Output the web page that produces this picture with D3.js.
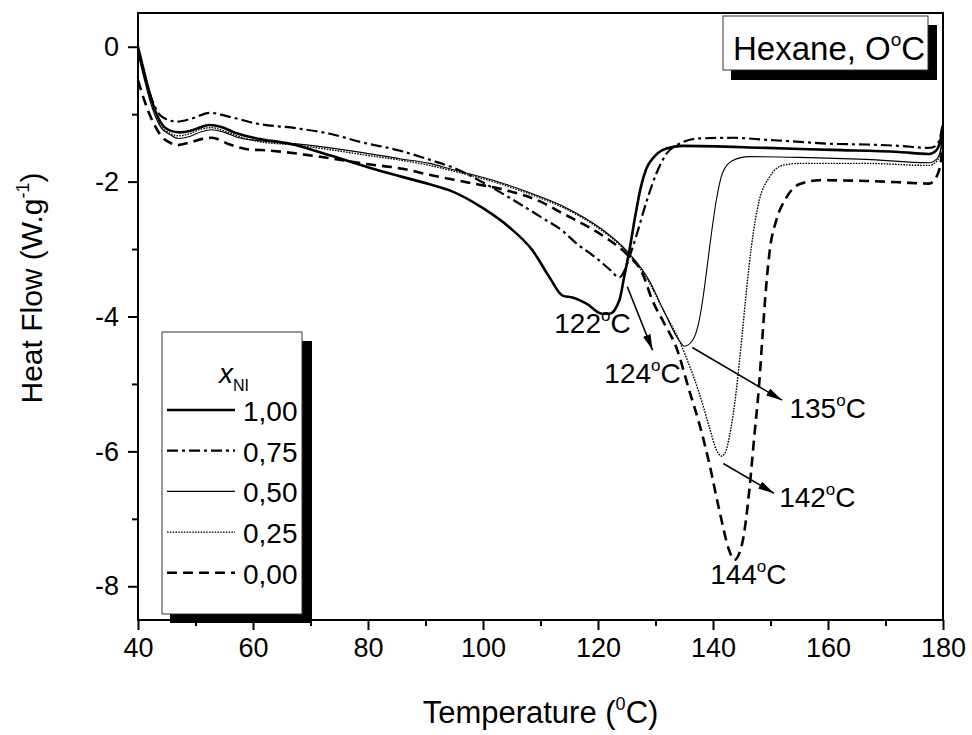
<!DOCTYPE html>
<html>
<head>
<meta charset="utf-8">
<script src="https://cdn.jsdelivr.net/npm/d3@7"></script>
<style>
    body { margin: 0; background: #fff; }
    #chart { width: 972px; height: 735px; }
    text { font-family: "Liberation Sans", Arial, sans-serif; fill: #000; }
</style>
</head>
<body>
<div id="chart"></div>
<script>

// DSC traces: [temperature (C), heat flow (W/g)]
const seriesLabels = ["1,00", "0,75", "0,50", "0,25", "0,00"];

const curve100 = [[40,0],[41,-0.35],[42,-0.68],[43,-0.95],[44,-1.13],[45.5,-1.24],[47.3,-1.27],[49,-1.25],[51,-1.19],
    [52.5,-1.16],[54.5,-1.19],[57,-1.28],[60.67,-1.36],[66.4,-1.44],[73.35,-1.61],[82.04,-1.84],[90.72,-2.04],
    [94.2,-2.13],[99.93,-2.39],[104.62,-2.68],[108.61,-3.02],[111.57,-3.42],[113.83,-3.69],[115.56,-3.72],
    [118,-3.81],[120.77,-3.96],[122,-3.96],[123.72,-3.76],[124.6,-3.39],[125.46,-3.02],[126.5,-2.5],[127.4,-2.1],
    [128.4,-1.81],[129.8,-1.63],[131.89,-1.51],[134.67,-1.47],[149.26,-1.5],[160.72,-1.53],[172.36,-1.56],
    [177.57,-1.59],[178.79,-1.54],[179.65,-1.35],[179.9,-1.2]];

const curve075 = [[40,-0.05],[41,-0.38],[42,-0.68],[43,-0.9],[44.2,-1.04],[46.77,-1.11],[49.5,-1.06],[52.51,-0.98],
    [56,-1.04],[60.67,-1.14],[67.62,-1.21],[73.35,-1.29],[79.08,-1.42],[85.51,-1.54],[91.24,-1.69],[94.72,-1.79],
    [99.93,-2.01],[104.62,-2.24],[110.35,-2.54],[113.83,-2.73],[116.3,-2.92],[119.5,-3.12],[122,-3.3],
    [123.72,-3.42],[124.6,-3.32],[125.46,-3.12],[126.68,-2.8],[128.42,-2.3],[130.15,-1.88],[131.89,-1.59],
    [134.15,-1.44],[137.62,-1.36],[143.35,-1.35],[149.26,-1.38],[154.99,-1.41],[160.72,-1.44],[166.63,-1.45],
    [172.36,-1.47],[177.57,-1.5],[178.79,-1.47],[179.65,-1.29],[179.9,-1.17]];

const curve050 = [[40,-0.1],[41,-0.45],[42,-0.78],[43,-1.03],[44,-1.2],[45.5,-1.3],[47,-1.36],[49,-1.33],[51,-1.26],
    [52.8,-1.23],[55,-1.27],[57.5,-1.35],[60.67,-1.39],[67.62,-1.44],[79.08,-1.57],[85.51,-1.66],[90.72,-1.73],
    [94.2,-1.81],[102.88,-2.01],[108.61,-2.18],[114.52,-2.39],[120.25,-2.68],[124.94,-3.02],[128.94,-3.47],
    [131.19,-3.87],[134.15,-4.36],[135.02,-4.44],[136.4,-4.36],[137.62,-4.05],[138.3,-3.7],[139,-3.25],
    [139.6,-2.85],[140.57,-2.28],[141.62,-1.88],[143.35,-1.69],[146.31,-1.63],[154.99,-1.64],[166.63,-1.67],
    [177.57,-1.72],[178.96,-1.66],[179.65,-1.5],[179.9,-1.29]];

const curve025 = [[40,-0.05],[41,-0.4],[42,-0.72],[43,-0.98],[44,-1.17],[45.5,-1.28],[47,-1.32],[49,-1.29],[51,-1.22],
    [52.8,-1.2],[55,-1.25],[57.5,-1.33],[60.67,-1.4],[67.62,-1.46],[79.08,-1.6],[90.72,-1.76],[94.2,-1.83],
    [102.88,-2.03],[108.61,-2.2],[114.52,-2.41],[120.25,-2.7],[124.94,-3.04],[128.94,-3.5],[131.19,-3.88],
    [134.15,-4.36],[135.36,-4.61],[137.62,-5.14],[139.36,-5.64],[140.6,-5.98],[141.5,-6.07],[142.3,-5.98],
    [142.83,-5.79],[144.05,-5.1],[145.09,-4.25],[145.96,-3.5],[146.7,-2.95],[148.04,-2.28],[149.78,-1.94],
    [152.04,-1.76],[154.99,-1.73],[166.63,-1.73],[177.57,-1.76],[178.96,-1.69],[179.65,-1.54],[179.9,-1.29]];

const curve000 = [[40,-0.5],[41,-0.77],[42,-1.0],[43,-1.18],[44,-1.32],[45.5,-1.42],[46.77,-1.46],[49,-1.42],
    [51,-1.37],[52.85,-1.35],[55.98,-1.45],[59,-1.52],[62.93,-1.54],[68.14,-1.59],[73.87,-1.66],[79,-1.73],
    [86.03,-1.81],[91.24,-1.91],[97.15,-2.01],[104.1,-2.13],[109.83,-2.29],[113.83,-2.47],[118.5,-2.68],
    [122,-2.87],[124.94,-3.07],[127.72,-3.36],[129.46,-3.76],[131.5,-4.1],[133.63,-4.46],[135.88,-5.1],
    [137.62,-5.59],[139.36,-6.18],[141.09,-6.87],[142.83,-7.47],[143.7,-7.61],[145.09,-7.36],[146.31,-6.58],
    [147.17,-5.79],[148.04,-4.99],[148.6,-4.3],[149.2,-3.6],[149.9,-3.0],[150.99,-2.58],[152.73,-2.24],
    [154.99,-2.04],[158.47,-1.98],[166.63,-1.99],[172.36,-2.01],[177.57,-2.03],[178.79,-1.94],[179.65,-1.69],
    [179.9,-1.29]];

const allCurves = [curve100, curve075, curve050, curve025, curve000];

const xMajor = [40, 60, 80, 100, 120, 140, 160, 180];
const xMinor = [50, 70, 90, 110, 130, 150, 170];
const yMajor = [0, -2, -4, -6, -8];
const yMinor = [-1, -3, -5, -7];

// peak labels (temperature text) and where they sit in data units
const peakText = ["122", "124", "135", "142", "144"];
const peakTextAt = [[112.4, -4.25], [121.1, -4.99], [153.3, -5.5], [151.5, -6.83], [139.5, -7.96]];
const peakArrows = [
    [[125.1, -3.56], [129.5, -4.5]],
    [[136.4, -4.46], [152.0, -5.24]],
    [[141.8, -6.18], [150.6, -6.62]]
];

class DscChart {

    constructor(parentElement) {
        this.parentElement = parentElement;
        this.initVis();
    }

    initVis() {
        let vis = this;

        vis.margin = {top: 13, right: 29, bottom: 115, left: 138};
        vis.width = 972 - vis.margin.left - vis.margin.right;
        vis.height = 735 - vis.margin.top - vis.margin.bottom;

        vis.root = d3.select("#" + vis.parentElement).append("svg")
            .attr("width", 972)
            .attr("height", 735);

        vis.svg = vis.root.append("g")
            .attr("transform", "translate(" + vis.margin.left + "," + vis.margin.top + ")");

        vis.x = d3.scaleLinear().domain([40, 180]).range([0, vis.width]);
        vis.y = d3.scaleLinear().domain([-8.5, 0.5]).range([vis.height, 0]);

        vis.styles = [
            {w: 2.6, dash: null},
            {w: 2.2, dash: "11,4,3,4"},
            {w: 1.1, dash: null},
            {w: 1.4, dash: "1.6,1.2"},
            {w: 2.6, dash: "10,6"}
        ];

        vis.drawAxes();
        vis.updateVis();
        vis.drawLegend();
        vis.drawTitle();
    }

    drawAxes() {
        let vis = this;

        // plain hyphen for negatives, like the original figure
        let fmt = d => String(d);

        vis.svg.append("g")
            .attr("class", "x-axis axis")
            .attr("transform", "translate(0," + vis.height + ")")
            .call(d3.axisBottom(vis.x).tickValues(xMajor).tickSize(10).tickPadding(8).tickFormat(fmt))
            .call(g => g.select(".domain").remove())
            .selectAll("text").style("font-size", "27px");

        vis.svg.append("g")
            .attr("transform", "translate(0," + vis.height + ")")
            .call(d3.axisBottom(vis.x).tickValues(xMinor).tickSize(6).tickFormat(""))
            .call(g => g.select(".domain").remove());

        vis.svg.append("g")
            .attr("class", "y-axis axis")
            .call(d3.axisLeft(vis.y).tickValues(yMajor).tickSize(10).tickPadding(9).tickFormat(fmt))
            .call(g => g.select(".domain").remove())
            .selectAll("text").style("font-size", "27px");

        vis.svg.append("g")
            .call(d3.axisLeft(vis.y).tickValues(yMinor).tickSize(6).tickFormat(""))
            .call(g => g.select(".domain").remove());

        vis.svg.selectAll(".tick line").attr("stroke", "#000").attr("stroke-width", 2);

        // frame
        vis.svg.append("rect")
            .attr("width", vis.width)
            .attr("height", vis.height)
            .attr("fill", "none")
            .attr("stroke", "#000")
            .attr("stroke-width", 2);

        // axis titles
        let xt = vis.root.append("text")
            .attr("x", vis.margin.left + vis.width / 2)
            .attr("y", 723)
            .attr("text-anchor", "middle")
            .style("font-size", "31px");
        xt.append("tspan").text("Temperature (");
        xt.append("tspan").attr("dy", -13).style("font-size", "18px").text("0");
        xt.append("tspan").attr("dy", 13).text("C)");

        let yt = vis.root.append("text")
            .attr("transform", "translate(42,288) rotate(-90)")
            .attr("text-anchor", "middle")
            .style("font-size", "30px");
        yt.append("tspan").text("Heat Flow (W.g");
        yt.append("tspan").attr("dy", -13).style("font-size", "18px").text("-1");
        yt.append("tspan").attr("dy", 13).text(")");
    }

    updateVis() {
        let vis = this;

        vis.line = d3.line()
            .curve(d3.curveMonotoneX)
            .x(d => vis.x(d[0]))
            .y(d => vis.y(d[1]));

        vis.svg.selectAll(".curve")
            .data(allCurves)
            .enter().append("path")
            .attr("class", "curve")
            .attr("fill", "none")
            .attr("stroke", "#000")
            .attr("stroke-width", (d, i) => vis.styles[i].w)
            .attr("stroke-dasharray", (d, i) => vis.styles[i].dash)
            .attr("d", vis.line);

        // arrow head
        vis.root.append("defs").append("marker")
            .attr("id", "head")
            .attr("markerUnits", "userSpaceOnUse")
            .attr("viewBox", "0 0 16 8")
            .attr("refX", 16).attr("refY", 4)
            .attr("markerWidth", 16).attr("markerHeight", 8)
            .attr("orient", "auto")
            .append("path")
            .attr("d", "M0,0L16,4L0,8Z")
            .attr("fill", "#000");

        vis.svg.selectAll(".peak-arrow")
            .data(peakArrows)
            .enter().append("line")
            .attr("class", "peak-arrow")
            .attr("x1", d => vis.x(d[0][0]))
            .attr("y1", d => vis.y(d[0][1]))
            .attr("x2", d => vis.x(d[1][0]))
            .attr("y2", d => vis.y(d[1][1]))
            .attr("stroke", "#000")
            .attr("stroke-width", 1.6)
            .attr("marker-end", "url(#head)");

        let labels = vis.svg.selectAll(".peak-label")
            .data(peakText)
            .enter().append("text")
            .attr("class", "peak-label")
            .attr("x", (d, i) => vis.x(peakTextAt[i][0]))
            .attr("y", (d, i) => vis.y(peakTextAt[i][1]))
            .style("font-size", "28px");
        labels.append("tspan").text(d => d);
        labels.append("tspan").attr("dy", -12).style("font-size", "17px").text("o");
        labels.append("tspan").attr("dy", 12).text("C");
    }

    drawLegend() {
        let vis = this;

        let lg = vis.root.append("g").attr("class", "legend");
        lg.append("rect").attr("x", 170).attr("y", 341).attr("width", 142).attr("height", 282).attr("fill", "#000");
        lg.append("rect").attr("x", 162).attr("y", 332).attr("width", 140).attr("height", 282)
            .attr("fill", "#fff").attr("stroke", "#333").attr("stroke-width", 1);

        let title = lg.append("text").attr("x", 219).attr("y", 383).style("font-size", "28px");
        title.append("tspan").style("font-style", "italic").text("x");
        title.append("tspan").attr("dy", 8).style("font-size", "16px").text("NI");

        let rows = lg.selectAll(".row")
            .data(seriesLabels)
            .enter().append("g")
            .attr("class", "row")
            .attr("transform", (d, i) => "translate(0," + (410 + i * 40.7) + ")");

        rows.append("line")
            .attr("x1", 167).attr("x2", 235)
            .attr("stroke", "#000")
            .attr("stroke-width", (d, i) => vis.styles[i].w)
            .attr("stroke-dasharray", (d, i) => vis.styles[i].dash);

        rows.append("text")
            .attr("x", 243).attr("y", 11)
            .style("font-size", "28px")
            .text(d => d);
    }

    drawTitle() {
        let vis = this;

        vis.root.append("rect").attr("x", 731).attr("y", 25).attr("width", 206).attr("height", 55).attr("fill", "#000");
        vis.root.append("rect").attr("x", 723).attr("y", 16).attr("width", 205).attr("height", 54)
            .attr("fill", "#fff").attr("stroke", "#333").attr("stroke-width", 1);

        let t = vis.root.append("text").attr("x", 733).attr("y", 60).style("font-size", "33px");
        t.append("tspan").text("Hexane, O");
        t.append("tspan").attr("dy", -14).style("font-size", "19px").text("o");
        t.append("tspan").attr("dy", 14).text("C");
    }
}

new DscChart("chart");

</script>
</body>
</html>
